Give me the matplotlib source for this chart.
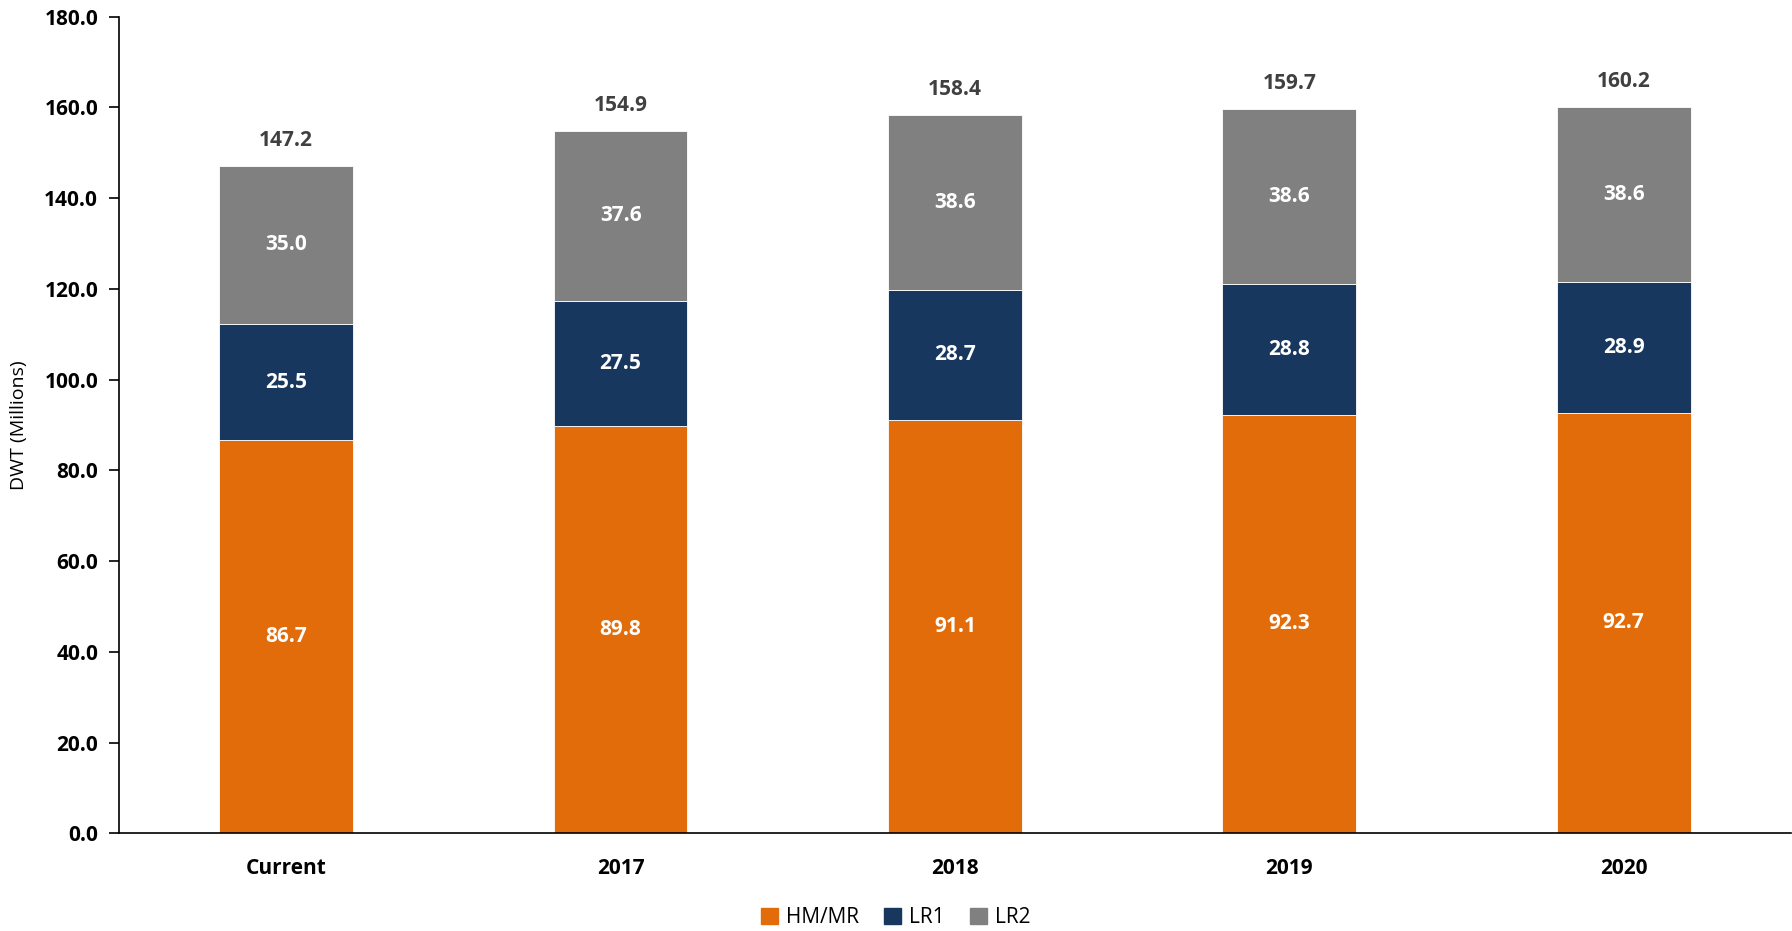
import matplotlib.pyplot as plt
from matplotlib.patches import Patch

categories = ["Current", "2017", "2018", "2019", "2020"]
hm_mr = [86.7, 89.8, 91.1, 92.3, 92.7]
lr1 = [25.5, 27.5, 28.7, 28.8, 28.9]
lr2 = [35.0, 37.6, 38.6, 38.6, 38.6]
totals = [147.2, 154.9, 158.4, 159.7, 160.2]

colors = ["#E36C0A", "#17375E", "#808080"]
names = ["HM/MR", "LR1", "LR2"]

plt.rcParams["font.family"] = ["Open Sans", "DejaVu Sans"]

fig = plt.figure(figsize=(17.92, 9.31), dpi=100)
ax = fig.add_axes([0.0664, 0.105, 0.933, 0.877])

x = range(len(categories))
w = 0.4
bottom = [0.0] * len(categories)
for vals, c in zip([hm_mr, lr1, lr2], colors):
    bars = ax.bar(x, vals, w, bottom=bottom, color=c, edgecolor="white", linewidth=0.6)
    for b, v, bt in zip(bars, vals, bottom):
        ax.text(b.get_x() + b.get_width() / 2, bt + v / 2, f"{v:.1f}",
                ha="center", va="center", color="white", fontsize=15, fontweight="bold")
    bottom = [a + v for a, v in zip(bottom, vals)]

for i, t in enumerate(totals):
    ax.annotate(f"{t:.1f}", (i, t), xytext=(0, 18), textcoords="offset points",
                ha="center", va="center", color="#404040", fontsize=15, fontweight="bold")

ax.set_xlim(-0.5, 4.5)
ax.set_ylim(0, 180)
ax.set_yticks(range(0, 181, 20))
ax.set_yticklabels([f"{v:.1f}" for v in range(0, 181, 20)], fontsize=15, fontweight="bold")
ax.set_xticks(list(x))
ax.set_xticklabels(categories, fontsize=15, fontweight="bold")
ax.tick_params(axis="x", length=0, pad=18)
ax.tick_params(axis="y", length=7, width=1.2, direction="out", pad=8)
ax.spines["top"].set_visible(False)
ax.spines["right"].set_visible(False)
ax.spines["left"].set_linewidth(1.2)
ax.spines["bottom"].set_linewidth(1.2)
ax.set_ylabel("DWT (Millions)", fontsize=14, labelpad=12)

handles = [Patch(color=c, label=n) for c, n in zip(colors, names)]
fig.legend(handles=handles, loc="center", bbox_to_anchor=(0.5, 0.014), ncol=3,
           frameon=False, fontsize=15, handlelength=0.8, handleheight=0.8,
           handletextpad=0.4, columnspacing=1.2)

fig.savefig("out.png", dpi=100)
